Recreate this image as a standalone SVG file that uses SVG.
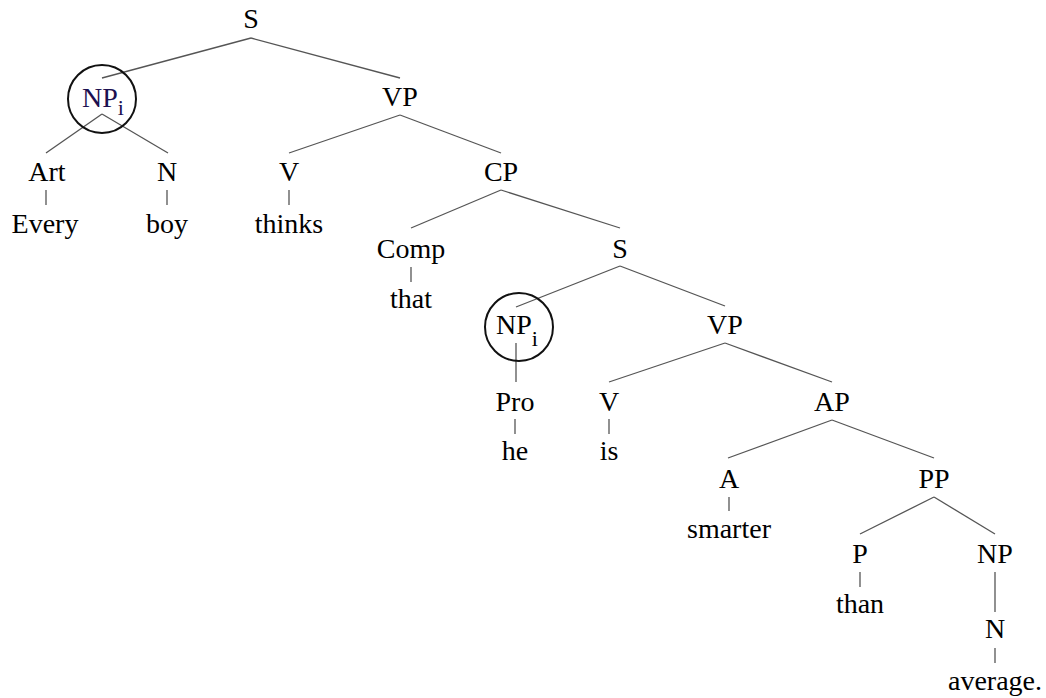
<svg xmlns="http://www.w3.org/2000/svg" width="1046" height="698" viewBox="0 0 1046 698">
<style>
text{font-size:28px;fill:#000;text-anchor:middle}
text.s{text-anchor:start}
.sub{font-size:22px}
#connectors line{stroke:#555;stroke-width:1.3}
.ring{fill:none;stroke:#111;stroke-width:2}
</style>
<rect width="1046" height="698" fill="#fff"/>
<g id="connectors">
<line x1="251" y1="38" x2="102" y2="78"/>
<line x1="251" y1="38" x2="400" y2="78"/>
<line x1="102" y1="114" x2="46" y2="153"/>
<line x1="102" y1="114" x2="168" y2="153"/>
<line x1="400" y1="115" x2="289" y2="153"/>
<line x1="400" y1="115" x2="501" y2="153"/>
<line x1="46" y1="190" x2="46" y2="205"/>
<line x1="167" y1="190" x2="167" y2="205"/>
<line x1="289" y1="190" x2="289" y2="205"/>
<line x1="501" y1="190" x2="411" y2="228"/>
<line x1="501" y1="190" x2="620" y2="228"/>
<line x1="411" y1="267" x2="411" y2="282"/>
<line x1="620" y1="266" x2="516" y2="307"/>
<line x1="620" y1="266" x2="725" y2="306"/>
<line x1="516" y1="343" x2="516" y2="382"/>
<line x1="725" y1="343" x2="609" y2="382"/>
<line x1="725" y1="343" x2="832" y2="382"/>
<line x1="515" y1="419" x2="515" y2="434"/>
<line x1="609" y1="419" x2="609" y2="434"/>
<line x1="832" y1="420" x2="728" y2="458"/>
<line x1="832" y1="420" x2="934" y2="458"/>
<line x1="729" y1="497" x2="729" y2="511"/>
<line x1="934" y1="497" x2="860" y2="534"/>
<line x1="934" y1="497" x2="995" y2="534"/>
<line x1="860" y1="572" x2="860" y2="587"/>
<line x1="995" y1="572" x2="995" y2="612"/>
<line x1="995" y1="648" x2="995" y2="663"/>
</g>
<g font-family="'Liberation Serif', 'Times New Roman', 'DejaVu Serif', serif">
<g id="n-S1"><text x="251" y="28">S</text></g>
<g id="n-NP1"><circle class="ring" cx="102" cy="99" r="34"/><text class="s" x="82" y="107" style="fill:#1c1050">NP<tspan class="sub" dy="8">i</tspan></text></g>
<g id="n-VP1"><text x="400" y="106">VP</text></g>
<g id="n-Art"><text x="47" y="181">Art</text></g>
<g id="n-Every"><text x="45" y="233">Every</text></g>
<g id="n-N1"><text x="167" y="181">N</text></g>
<g id="n-boy"><text x="167" y="233">boy</text></g>
<g id="n-V1"><text x="289" y="181">V</text></g>
<g id="n-thinks"><text x="289" y="233">thinks</text></g>
<g id="n-CP"><text x="501" y="181">CP</text></g>
<g id="n-Comp"><text x="411" y="258">Comp</text></g>
<g id="n-that"><text x="411" y="308">that</text></g>
<g id="n-S2"><text x="620" y="258">S</text></g>
<g id="n-NP2"><circle class="ring" cx="519" cy="327" r="34"/><text class="s" x="496" y="334">NP<tspan class="sub" dy="12">i</tspan></text></g>
<g id="n-VP2"><text x="725" y="334">VP</text></g>
<g id="n-Pro"><text x="515" y="411">Pro</text></g>
<g id="n-he"><text x="515" y="460">he</text></g>
<g id="n-V2"><text x="609" y="411">V</text></g>
<g id="n-is"><text x="609" y="460">is</text></g>
<g id="n-AP"><text x="832" y="411">AP</text></g>
<g id="n-A"><text x="729" y="488">A</text></g>
<g id="n-smarter"><text x="729" y="538">smarter</text></g>
<g id="n-PP"><text x="934" y="488">PP</text></g>
<g id="n-P"><text x="860" y="563">P</text></g>
<g id="n-than"><text x="860" y="613">than</text></g>
<g id="n-NP3"><text x="995" y="563">NP</text></g>
<g id="n-N2"><text x="995" y="638">N</text></g>
<g id="n-average"><text x="995" y="690">average.</text></g>
</g>
</svg>
